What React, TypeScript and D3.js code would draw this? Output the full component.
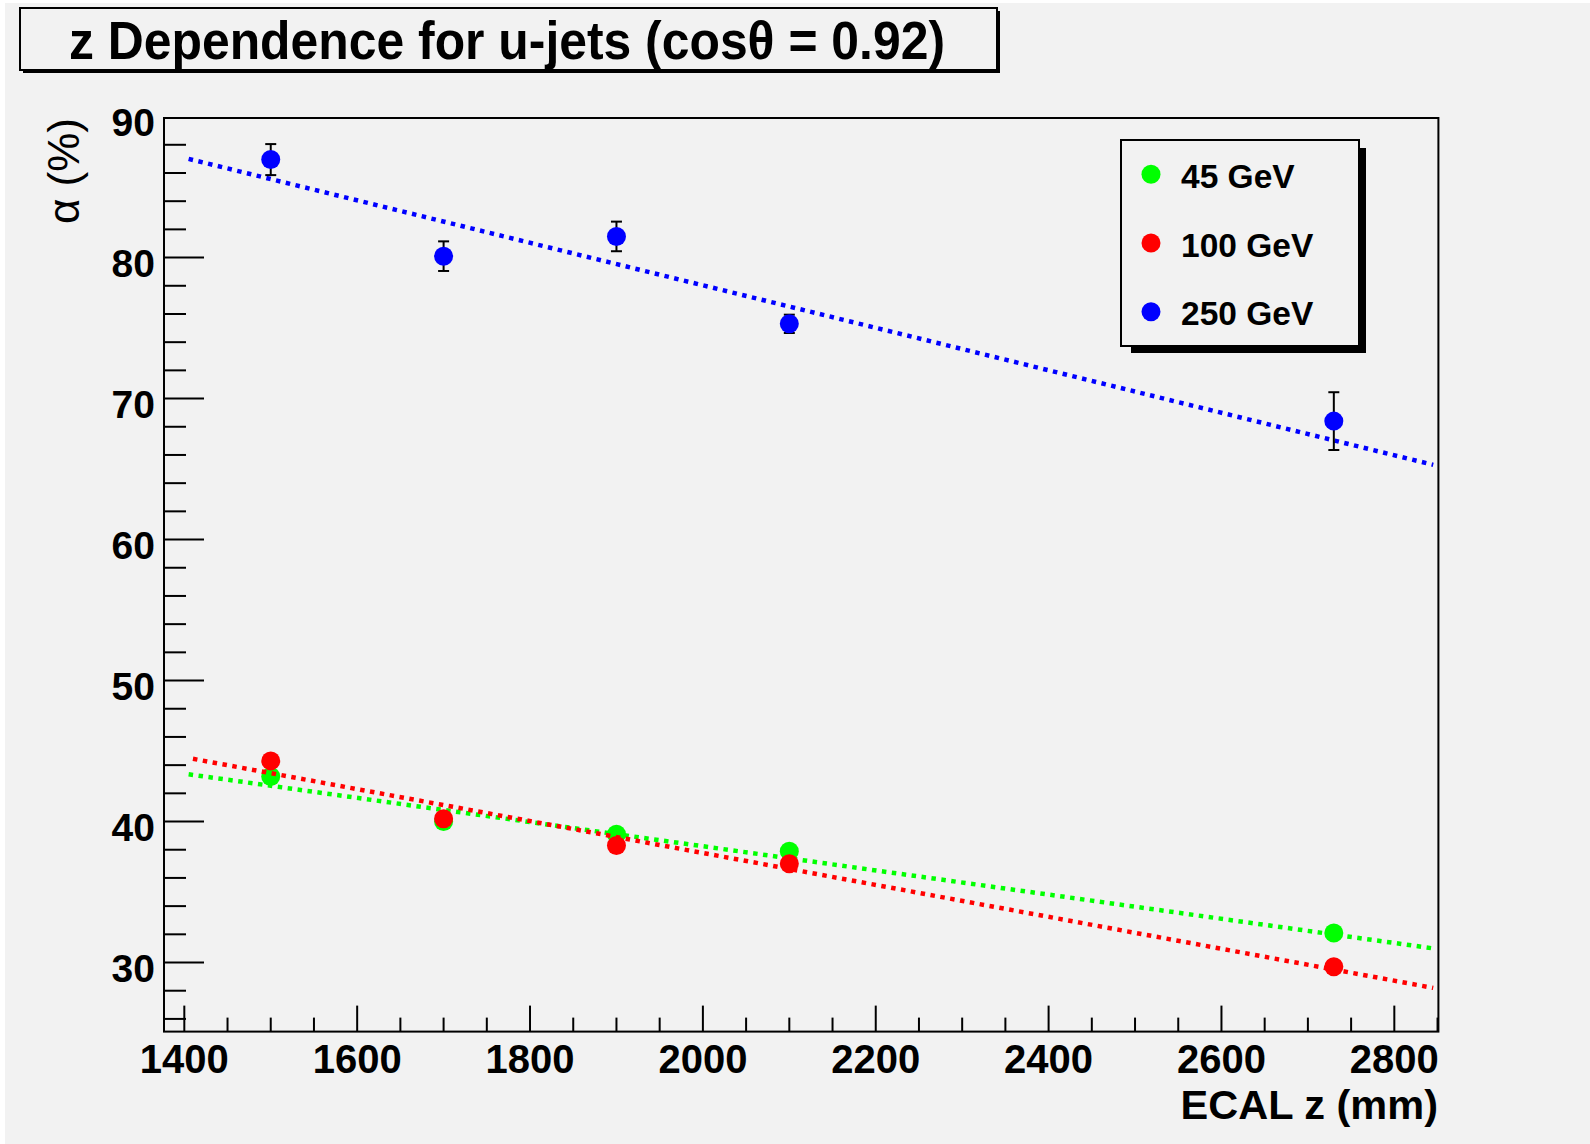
import React from "react";
import * as d3 from "d3";

// ---- data ----
const zPositions = [1500, 1700, 1900, 2100, 2730];
const alpha45 = [43.2, 40.0, 39.1, 37.9, 32.1];
const alpha100 = [44.3, 40.2, 38.3, 37.0, 29.7];
const alpha250 = [86.95, 80.1, 81.5, 75.3, 68.4];
const err250 = [1.1, 1.05, 1.05, 0.65, 2.05];

// fitted straight lines (start / end points as read)
const fit45 = [[1405, 43.35], [2845, 31.0]];
const fit100 = [[1410, 44.45], [2845, 28.2]];
const fit250 = [[1405, 87.0], [2845, 65.3]];

const seriesNames = ["45 GeV", "100 GeV", "250 GeV"];
const seriesColors = ["#00ff00", "#ff0000", "#0000ff"];

const xTickLabels = [1400, 1600, 1800, 2000, 2200, 2400, 2600, 2800];
const yTickLabels = [30, 40, 50, 60, 70, 80, 90];

const titleText = "z Dependence for u-jets (cosθ = 0.92)";
const xTitle = "ECAL z (mm)";
const yTitle = "α (%)";

const W = 1590;
const H = 1144;
const FONT = "'Liberation Sans', Arial, Helvetica, sans-serif";

export default function App() {
  const x = d3.scaleLinear().domain([1376.5, 2851]).range([164, 1438.4]);
  const y = d3.scaleLinear().domain([25.1, 89.9]).range([1031.6, 118]);

  const line = d3
    .line<number[]>()
    .x((d) => x(d[0]))
    .y((d) => y(d[1]));

  const xTicks = d3.range(1400, 2851, 50);
  const yTicks = d3.range(26, 90, 2);

  const [x0, x1] = x.range();
  const [yb, yt] = y.range();

  const series = [alpha45, alpha100, alpha250];
  const fits = [fit45, fit100, fit250];

  return (
    <svg
      width={W}
      height={H}
      style={{ position: "absolute", left: 0, top: 0, display: "block" }}
      fontFamily={FONT}
    >
      <rect x={0} y={0} width={W} height={H} fill="#ffffff" />
      <rect x={5} y={3} width={W - 5} height={H - 3} fill="#f2f2f2" />

      {/* title box */}
      <rect x={23} y={11} width={977} height={62} fill="#000" />
      <rect x={20} y={8} width={977} height={62} fill="#f2f2f2" stroke="#000" strokeWidth={2} />
      <text
        x={507}
        y={59}
        fontSize={53}
        fontWeight="bold"
        textAnchor="middle"
        fill="#000"
        textLength={876}
        lengthAdjust="spacingAndGlyphs"
      >
        {titleText}
      </text>

      {/* frame */}
      <rect x={x0} y={yt} width={x1 - x0} height={yb - yt} fill="none" stroke="#000" strokeWidth={2} />

      {/* y ticks */}
      {yTicks.map((v) => {
        const major = v % 10 === 0;
        return (
          <line
            key={"yt" + v}
            x1={x0}
            x2={x0 + (major ? 40 : 22)}
            y1={y(v)}
            y2={y(v)}
            stroke="#000"
            strokeWidth={2}
          />
        );
      })}
      {/* x ticks */}
      {xTicks.map((v) => {
        const major = v % 200 === 0;
        return (
          <line
            key={"xt" + v}
            x1={x(v)}
            x2={x(v)}
            y1={yb}
            y2={yb - (major ? 26 : 14)}
            stroke="#000"
            strokeWidth={2}
          />
        );
      })}

      {/* tick labels */}
      {yTickLabels.map((v) => (
        <text key={"yl" + v} x={155} y={y(v) + 19.5} fontSize={39} fontWeight="bold" textAnchor="end">
          {v}
        </text>
      ))}
      {xTickLabels.map((v) => (
        <text key={"xl" + v} x={x(v)} y={1073} fontSize={40} fontWeight="bold" textAnchor="middle">
          {v}
        </text>
      ))}

      {/* axis titles */}
      <text x={1438} y={1119} fontSize={41.5} fontWeight="bold" textAnchor="end">
        {xTitle}
      </text>
      <text transform="translate(79,118) rotate(-90)" fontSize={44} textAnchor="end">
        {yTitle}
      </text>

      {/* fit lines and points */}
      {series.map((vals, si) => (
        <g key={"s" + si}>
          <path
            d={line(fits[si]) || ""}
            fill="none"
            stroke={seriesColors[si]}
            strokeWidth={4.5}
            strokeDasharray="4.5 5.5"
          />
          {si === 2 &&
            vals.map((v, i) => (
              <g key={"e" + i} stroke="#000" strokeWidth={2}>
                <line x1={x(zPositions[i])} x2={x(zPositions[i])} y1={y(v - err250[i])} y2={y(v + err250[i])} />
                <line x1={x(zPositions[i]) - 5.5} x2={x(zPositions[i]) + 5.5} y1={y(v - err250[i])} y2={y(v - err250[i])} />
                <line x1={x(zPositions[i]) - 5.5} x2={x(zPositions[i]) + 5.5} y1={y(v + err250[i])} y2={y(v + err250[i])} />
              </g>
            ))}
          {vals.map((v, i) => (
            <circle key={"p" + i} cx={x(zPositions[i])} cy={y(v)} r={9.5} fill={seriesColors[si]} />
          ))}
        </g>
      ))}

      {/* legend */}
      <rect x={1131} y={148} width={235} height={205} fill="#000" />
      <rect x={1121} y={140} width={238} height={206} fill="#f2f2f2" stroke="#000" strokeWidth={2} />
      {seriesNames.map((name, i) => {
        const cy = 174.3 + i * 68.7;
        return (
          <g key={"lg" + i}>
            <circle cx={1151} cy={cy} r={9.5} fill={seriesColors[i]} />
            <text x={1181} y={cy + 13.5} fontSize={33.5} fontWeight="bold">
              {name}
            </text>
          </g>
        );
      })}
    </svg>
  );
}
